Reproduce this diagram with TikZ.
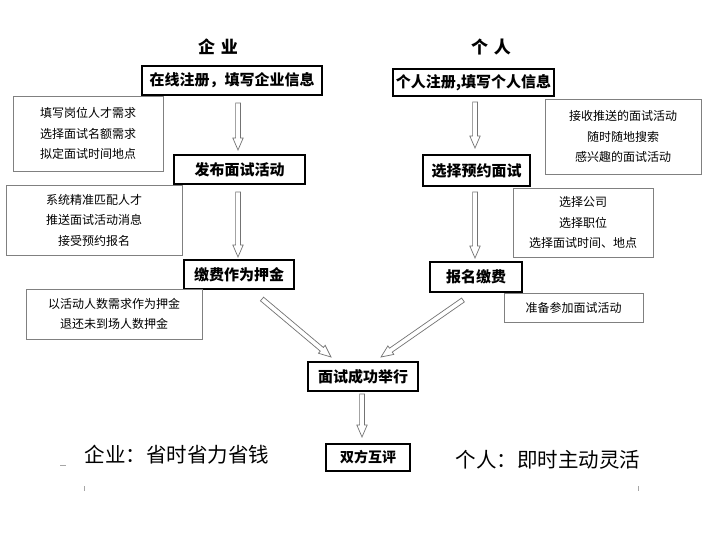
\documentclass[tikz,border=0pt]{standalone}
\usepackage{fontspec}
\setmainfont{Noto Sans CJK SC}
\usetikzlibrary{calc}
\tikzset{
  mainbox/.style={draw=black, line width=1.1pt, font=\bfseries\fontsize{15}{18}\selectfont, inner sep=0pt},
  infobox/.style={draw=black!50, line width=0.8pt, align=center, font=\fontsize{12}{20.5}\selectfont, inner sep=0pt},
  harrowline/.style={draw=black!55, line width=0.7pt, fill=white, line join=miter},
  title/.style={font=\bfseries\fontsize{17}{20}\selectfont, inner sep=0pt},
  slogan/.style={font=\fontsize{20.5}{24}\selectfont, inner sep=0pt},
  tickmark/.style={draw=black!35, line width=0.6pt},
}
\newcommand\hollowarrow[2]{%
  \coordinate (hb) at ($(#2)!12pt!(#1)$);
  \draw[harrowline] ($(#1)!2.4pt!90:(#2)$) -- ($(hb)!2.4pt!90:(#2)$) -- ($(hb)!5.2pt!90:(#2)$) -- (#2)
    -- ($(hb)!5.2pt!-90:(#2)$) -- ($(hb)!2.4pt!-90:(#2)$) -- ($(#1)!2.4pt!-90:(#2)$) -- cycle;}
\begin{document}
\begin{tikzpicture}[x=1pt,y=-1pt]
\useasboundingbox[fill=white] (0,0) rectangle (715,544);
% titles
\node[title] (t1) at (218,47) {企\hspace{6pt}业};
\node[title] (t2) at (491,47) {个\hspace{6pt}人};
% left column
\node[mainbox, minimum width=180pt, minimum height=29pt] (b1) at (232,80.5) {在线注册，填写企业信息};
\node[mainbox, minimum width=131pt, minimum height=29pt] (b2) at (239.5,169.5) {发布面试活动};
\node[mainbox, minimum width=110pt, minimum height=29pt] (b3) at (239,274.5) {缴费作为押金};
\node[infobox, minimum width=150pt, minimum height=75pt] (l1) at (88,133.5) {填写岗位人才需求\\选择面试名额需求\\拟定面试时间地点};
\node[infobox, minimum width=176pt, minimum height=70pt] (l2) at (94,220) {系统精准匹配人才\\推送面试活动消息\\接受预约报名};
\node[infobox, minimum width=176pt, minimum height=50pt] (l3) at (114,314) {以活动人数需求作为押金\\退还未到场人数押金};
% right column
\node[mainbox, minimum width=161pt, minimum height=27pt] (r1) at (473.5,82.5) {个人注册,填写个人信息};
\node[mainbox, minimum width=107pt, minimum height=31pt] (r2) at (476.5,170.5) {选择预约面试};
\node[mainbox, minimum width=92pt, minimum height=30pt] (r3) at (476,277) {报名缴费};
\node[infobox, minimum width=156pt, minimum height=75pt] (q1) at (623,136.5) {接收推送的面试活动\\随时随地搜索\\感兴趣的面试活动};
\node[infobox, minimum width=140pt, minimum height=69pt] (q2) at (583,222.5) {选择公司\\选择职位\\选择面试时间、地点};
\node[infobox, minimum width=139pt, minimum height=29pt] (q3) at (573.5,307.5) {准备参加面试活动};
% center
\node[mainbox, minimum width=110pt, minimum height=29pt] (m) at (363,376.5) {面试成功举行};
\node[mainbox, font=\bfseries\fontsize{14}{17}\selectfont, minimum width=84pt, minimum height=27pt] (e) at (368,457.5) {双方互评};
% slogans
\node[slogan] (s1) at (177,455) {企业：省时省力省钱};
\node[slogan] (s2) at (548,460) {个人：即时主动灵活};
% arrow endpoints
\coordinate (a1s) at (238,103);  \coordinate (a1e) at (238,150);
\coordinate (a2s) at (238,192);  \coordinate (a2e) at (238,257);
\coordinate (c1s) at (475,102);  \coordinate (c1e) at (475,148);
\coordinate (c2s) at (475,192);  \coordinate (c2e) at (475,258);
\coordinate (d1s) at (262,299);  \coordinate (d1e) at (331,357);
\coordinate (d2s) at (463,300);  \coordinate (d2e) at (381,357);
\coordinate (d3s) at (362,394);  \coordinate (d3e) at (362,437);
\hollowarrow{a1s}{a1e}
\hollowarrow{a2s}{a2e}
\hollowarrow{c1s}{c1e}
\hollowarrow{c2s}{c2e}
\hollowarrow{d1s}{d1e}
\hollowarrow{d2s}{d2e}
\hollowarrow{d3s}{d3e}
% small marks
\coordinate (k1) at (60,465); \coordinate (k2) at (66,465);
\coordinate (k3) at (84,486); \coordinate (k4) at (84,491);
\coordinate (k5) at (638,486); \coordinate (k6) at (638,491);
\draw[tickmark] (k1) -- (k2);
\draw[tickmark] (k3) -- (k4);
\draw[tickmark] (k5) -- (k6);
\end{tikzpicture}
\end{document}
